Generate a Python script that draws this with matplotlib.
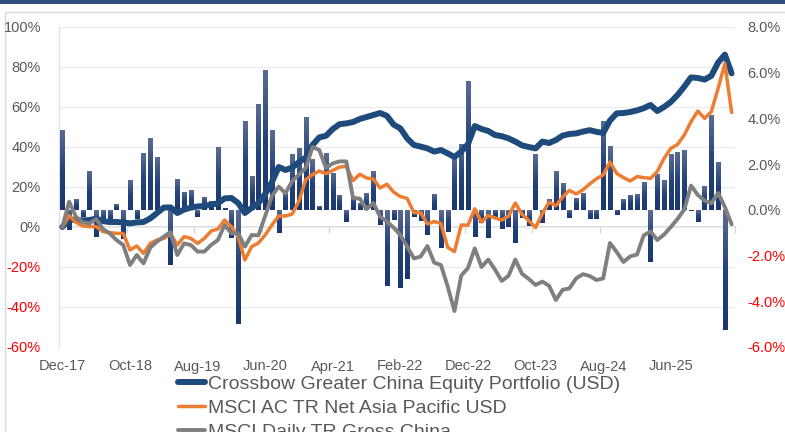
import numpy as np
import pandas as pd
import matplotlib
matplotlib.use("Agg")
import matplotlib.pyplot as plt
from matplotlib.colors import LinearSegmentedColormap
from matplotlib.lines import Line2D
from matplotlib.patches import Rectangle

plt.rcParams['font.family'] = ['Liberation Sans', 'DejaVu Sans']

# ---------------- data ----------------
months = pd.date_range('2017-12-01', periods=100, freq='MS').strftime('%b-%y').tolist()

series_names = ["Crossbow Greater China Equity Portfolio (USD)",
                "MSCI AC TR Net Asia Pacific USD",
                "MSCI Daily TR Gross China"]

crossbow = [0, 3.8, 3.5, 3.3, 3.5, 4.2, 2.9, 2.5, 2.5, 2.3,
            1.8, 2.3, 2.5, 4.3, 7.0, 9.7, 9.8, 7.0, 8.7, 9.7,
            10.3, 10.5, 11.2, 11.8, 14.3, 14.5, 12.0, 7.0, 9.6, 12.0,
            16.5, 22.5, 30.0, 28.5, 29.7, 32.5, 34.7, 41.0, 44.8, 45.6,
            49.0, 51.4, 51.8, 52.5, 54.0, 55.0, 56.0, 57.0, 55.6, 51.2,
            49.3, 44.3, 41.0, 40.2, 39.3, 37.7, 38.5, 36.8, 35.0, 37.7,
            41.4, 50.5, 49.0, 48.0, 46.0, 45.4, 44.3, 42.7, 40.8, 40.0,
            39.3, 42.7, 42.0, 43.5, 45.7, 46.5, 46.8, 47.7, 48.4, 47.6,
            47.0, 53.2, 56.8, 57.0, 57.5, 58.3, 59.4, 61.0, 58.0, 60.0,
            62.5, 66.0, 70.2, 74.8, 74.5, 73.7, 75.6, 82.2, 86.2, 76.8]

msci_asia_pacific = [0, 5.7, 2.3, 0.5, 0.2, 0.2, -2.3, -2.8, -3.2, -3.2,
                     -11.5, -9.5, -13.2, -8.2, -6.5, -5.7, -3.5, -9.0, -4.8, -5.7,
                     -8.2, -5.7, -2.0, -1.0, 3.5, 0.2, -4.8, -16.5, -9.8, -8.0,
                     -4.0, 1.0, 5.5, 5.5, 6.5, 13.0, 23.7, 26.2, 28.0, 26.7,
                     28.3, 30.0, 30.3, 23.2, 26.4, 24.5, 24.0, 19.5, 21.4, 17.5,
                     15.2, 14.3, 7.2, 7.2, 1.5, 2.7, 1.8, -10.2, -12.3, 1.0,
                     0.9, 9.1, 2.5, 5.8, 4.5, 3.5, 5.5, 12.0, 6.3, 3.2,
                     -0.3, 6.8, 12.4, 10.6, 15.0, 18.3, 16.5, 18.6, 21.5, 24.1,
                     26.0, 32.5, 26.8, 24.7, 23.0, 25.2, 24.7, 24.3, 27.7, 34.3,
                     39.3, 41.3, 46.0, 52.7, 58.0, 54.3, 57.7, 69.3, 81.8, 57.3]

msci_china = [0, 12.7, 5.2, 2.3, 1.8, 4.0, -1.0, -3.2, -6.5, -9.0,
              -19.0, -14.0, -18.2, -10.3, -7.3, -4.8, -2.5, -14.0, -8.2, -9.0,
              -12.3, -12.3, -9.0, -6.5, 1.0, -3.2, -3.2, -9.8, -4.0, -4.2,
              5.5, 15.5, 20.2, 16.8, 23.0, 26.2, 29.5, 40.0, 38.5, 29.5,
              31.8, 32.8, 32.8, 14.5, 14.2, 9.0, 12.0, 5.2, 2.7, -0.3,
              -4.0, -9.8, -15.7, -14.8, -9.5, -17.8, -19.0, -29.8, -42.0, -24.3,
              -20.5, -10.7, -20.0, -16.3, -21.3, -27.0, -24.4, -16.3, -23.4, -26.0,
              -29.0, -27.3, -29.4, -36.5, -31.4, -30.7, -25.7, -23.6, -24.5, -26.5,
              -25.7, -8.0, -12.5, -17.5, -14.7, -13.8, -4.2, -2.2, -6.5, -3.8,
              0.0, 4.0, 8.8, 20.7, 16.0, 13.2, 11.8, 17.0, 10.0, 1.4]

# monthly relative return (right axis, %)
relative_return = [3.5, -0.9, 0.48, -0.3, 1.68, -1.17, -0.6, -0.6, 0.26, -1.27,
                   1.31, -0.42, 2.5, 3.13, 2.33, 0.05, -2.42, 1.36, 0.8, 0.85,
                   -0.3, 0.58, 0.4, 2.75, 0.1, -1.24, -5.0, 3.9, 1.48, 4.64,
                   6.12, 3.5, -1.0, 0.85, 2.45, 2.7, 4.07, 2.23, 0.17, 2.49,
                   1.62, 0.66, -0.51, 0.6, 0.3, 0.74, 1.68, -0.66, -3.35, -0.44,
                   -3.42, -3.03, -0.32, -0.5, -1.11, 0.7, -1.65, -0.98, 2.3, 2.89,
                   5.62, -1.17, -0.58, -1.24, -0.3, -0.85, -0.73, -1.46, -0.36, -0.69,
                   2.45, -0.58, 0.48, 1.7, 1.17, -0.34, 0.54, 0.73, -0.39, -0.39,
                   3.9, 2.8, -0.22, 0.48, 0.66, 0.7, 1.24, -2.26, 1.57, 1.31,
                   2.45, 2.52, 2.62, -0.07, -0.51, 1.05, 4.13, 2.11, -5.25]

left_ticks = list(range(-60, 101, 20))
right_ticks = list(range(-6, 9, 2))
label_every = 10

# ---------------- figure ----------------
W, H = 785, 432
fig = plt.figure(figsize=(W / 100, H / 100), dpi=100)
fig.patch.set_facecolor('white')

rect = [59 / W, 1 - 347 / H, (735 - 59) / W, 320 / H]
ax_bg = fig.add_axes(rect)
axr = fig.add_axes(rect, sharex=ax_bg)
ax = fig.add_axes(rect, sharex=ax_bg)
ax_bg.set_zorder(0)
axr.set_zorder(1)
ax.set_zorder(2)
axr.patch.set_visible(False)
ax.patch.set_visible(False)

x = np.arange(len(crossbow))
xb = np.arange(len(relative_return))

GRID = '#ececec'
TXT = '#595959'
RED = '#ff0000'

# background: gridlines + zero axis line
ax_bg.set_ylim(left_ticks[0], left_ticks[-1])
ax_bg.set_yticks(left_ticks)
ax_bg.yaxis.grid(True, color=GRID, lw=1.0)
ax_bg.tick_params(left=False, bottom=False, labelleft=False, labelbottom=False)
for s in ['top', 'right', 'bottom']:
    ax_bg.spines[s].set_visible(False)
ax_bg.spines['left'].set_color('#e2e2e2')
ax_bg.spines['left'].set_linewidth(1.0)

sec = ax_bg.secondary_xaxis(0, transform=ax_bg.transData)
sec.set_xticks(np.arange(label_every - 0.5, len(crossbow), label_every))
sec.tick_params(axis='x', direction='out', length=4, width=1.0, color='#d4d4d4',
                labelbottom=False, labeltop=False)
for s in sec.spines.values():
    s.set_color('#d4d4d4')
    s.set_linewidth(1.2)

# bars (right axis) with vertical gradient
bars = axr.bar(xb, relative_return, width=0.62, color='#1f3d74', lw=0, zorder=2)
cmap = LinearSegmentedColormap.from_list('barg', ['#1a386f', '#23427a', '#5a6c93'])
grad = np.linspace(0, 1, 128).reshape(-1, 1)
for b in bars:
    x0, w = b.get_x(), b.get_width()
    y0, h = b.get_y(), b.get_height()
    lo, hi = min(y0, y0 + h), max(y0, y0 + h)
    if hi - lo <= 0:
        continue
    im = axr.imshow(grad, extent=[x0, x0 + w, lo, hi], origin='lower', cmap=cmap,
                    aspect='auto', zorder=2.1, interpolation='bilinear')
    im.set_clip_path(b)

axr.set_ylim(right_ticks[0], right_ticks[-1])
axr.set_yticks(right_ticks)
axr.set_yticklabels([f'{v:.1f}%' for v in right_ticks])
axr.yaxis.set_ticks_position('right')
axr.tick_params(axis='y', length=0, pad=9, labelsize=10.5, labelright=True, labelleft=False)
axr.tick_params(axis='x', bottom=False, labelbottom=False)
for lab, v in zip(axr.get_yticklabels(), right_ticks):
    lab.set_color(RED if v < 0 else TXT)
for s in axr.spines.values():
    s.set_visible(False)

# lines (left axis)
l1, = ax.plot(x, crossbow, color='#1f4a7c', lw=4.3, solid_joinstyle='round',
              solid_capstyle='round', zorder=3)
l2, = ax.plot(x, msci_asia_pacific, color='#ed7d31', lw=2.5, solid_joinstyle='round',
              solid_capstyle='round', zorder=4)
l3, = ax.plot(x, msci_china, color='#7f7f7f', lw=2.8, solid_joinstyle='round',
              solid_capstyle='round', zorder=5)

ax.set_ylim(left_ticks[0], left_ticks[-1])
ax.set_yticks(left_ticks)
ax.set_yticklabels([f'{v}%' for v in left_ticks])
ax.tick_params(axis='y', length=0, pad=13, labelsize=10.5)
for lab, v in zip(ax.get_yticklabels(), left_ticks):
    lab.set_color(RED if v < 0 else TXT)

ax.set_xlim(-0.5, len(crossbow) - 0.5)
tick_pos = list(range(0, len(crossbow), label_every))
ax.set_xticks(tick_pos)
ax.set_xticklabels([months[i] for i in tick_pos])
ax.tick_params(axis='x', length=0, pad=9, labelsize=10.5, labelcolor=TXT)
for s in ax.spines.values():
    s.set_visible(False)

# legend
leg = fig.legend(handles=[l1, l2, l3], labels=series_names, loc='upper left',
                 bbox_to_anchor=(178 / W, 1 - 375 / H), frameon=False, fontsize=14,
                 handlelength=1.4, handletextpad=0.12, labelspacing=0.33,
                 borderpad=0, borderaxespad=0)
for t in leg.get_texts():
    t.set_color(TXT)

# chart frame decorations
fig.add_artist(Rectangle((0, 1 - 3.5 / H), 1, 3.5 / H, transform=fig.transFigure,
                         facecolor='#2e4f80', edgecolor='none'))
fig.add_artist(Line2D([5 / W, 5 / W, 1], [0, 1 - 12 / H, 1 - 12 / H],
                      transform=fig.transFigure, color='#dadada', lw=1.0))

fig.savefig('out.png', dpi=100)
